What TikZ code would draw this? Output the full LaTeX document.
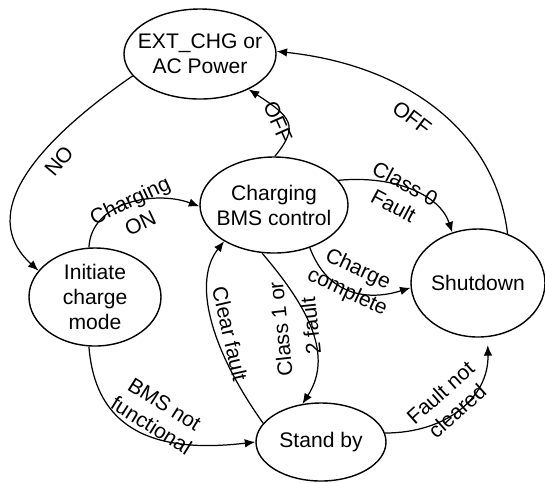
\documentclass[tikz,border=0pt]{standalone}
\usepackage{fontspec}
\setmainfont{Liberation Sans}
\usetikzlibrary{arrows.meta,shapes.geometric}

\begin{document}
\begin{tikzpicture}[x=0.2mm,y=-0.2mm,
  state/.style={draw,ellipse,line width=0.8pt,inner sep=0pt},
  lbl/.style={font=\fontsize{12}{14.2}\selectfont,align=center,inner sep=0pt},
  edge/.style={line width=0.7pt,-{Latex[length=2.1mm,width=1.7mm]}}]
\useasboundingbox (0,0) rectangle (545,482);
\node[state,minimum width=30.4mm,minimum height=18mm,label={[lbl]center:EXT\_CHG or\\AC Power}] (ext) at (200,54) {};
\node[state,minimum width=29.6mm,minimum height=19.2mm,label={[lbl]center:Charging\\BMS control}] (bms) at (274,205) {};
\node[state,minimum width=26.4mm,minimum height=19.6mm,label={[lbl]center:Initiate\\charge\\mode}] (init) at (95,297) {};
\node[state,minimum width=26.8mm,minimum height=21.6mm,label={[lbl]center:Shutdown}] (shut) at (478,283) {};
\node[state,minimum width=26mm,minimum height=15.6mm,label={[lbl]center:Stand by}] (stby) at (321,442) {};
\draw[edge] (ext.198) .. controls (38.5,141) and (-25,213) .. (init.155);
\draw[edge] (init.97) .. controls (91,202) and (155,190) .. (bms.181);
\draw[edge] (bms.89) .. controls (299.8,125.8) and (291.2,117) .. (ext.-36);
\draw[edge] (shut.59) .. controls (495,130) and (405,65) .. (ext.2);
\draw[edge] (bms.21) .. controls (395,175) and (440,195) .. (shut.117);
\draw[edge] (bms.-50) .. controls (327.5,295) and (367,301.5) .. (shut.184);
\draw[edge] (bms.-104) .. controls (302,300) and (336,352) .. (stby.116);
\draw[edge] (stby.162) .. controls (211,350) and (192,282) .. (bms.216);
\draw[edge] (init.-97) .. controls (96,440) and (170,452) .. (stby.180);
\draw[edge,shorten >=1.6mm] (stby.8) .. controls (447,433) and (489,397) .. (shut.-80);
\node[lbl,rotate=50] (tNo) at (59,161) {NO};
\node[lbl,rotate=25] (tOn) at (135,211.5) {Charging\\ON};
\node[lbl,rotate=-66] (tOffA) at (278,122) {OFF};
\node[lbl,rotate=-37] (tOffB) at (412,118) {OFF};
\node[lbl,rotate=-28] (tClassA) at (399.4,194.4) {Class 0\\Fault};
\node[lbl,rotate=-25] (tDone) at (352.4,281.2) {Charge\\complete};
\node[lbl,rotate=96] (tClassB) at (295.5,327.5) {Class 1 or\\[3pt]2 fault};
\node[lbl,rotate=-77] (tClear) at (230,334) {Clear fault};
\node[lbl,rotate=-32] (tNotBms) at (158,415) {BMS not\\functional};
\node[lbl,rotate=42] (tNotClr) at (448.7,401.7) {Fault not\\cleared};
\end{tikzpicture}
\end{document}
